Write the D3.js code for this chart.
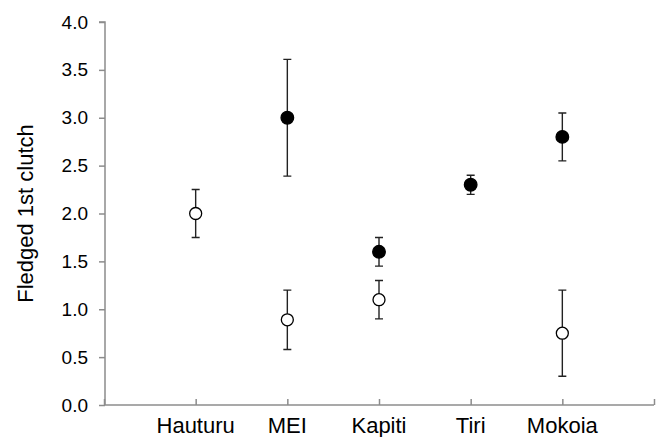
<!DOCTYPE html>
<html>
<head>
<meta charset="utf-8">
<script src="https://cdn.jsdelivr.net/npm/d3@7"></script>
<style>
  body { margin: 0; background: #fff; }
  svg { display: block; font-family: "Liberation Sans", Arial, sans-serif; }
</style>
</head>
<body>
<div id="chartDiv"></div>
<script>
const sites = ["Hauturu", "MEI", "Kapiti", "Tiri", "Mokoia"];
// filled circles
const filledMean = [null, 3.0, 1.6, 2.3, 2.8];
const filledErr  = [null, 0.61, 0.15, 0.1, 0.25];
// open circles
const openMean = [2.0, 0.89, 1.1, null, 0.75];
const openErr  = [0.25, 0.31, 0.2, null, 0.45];
const yTicks = [0, 0.5, 1, 1.5, 2, 2.5, 3, 3.5, 4];

const width = 664, height = 437;
const margin = {left: 105, right: 10, top: 22, bottom: 32};

const svg = d3.select("#chartDiv").append("svg")
    .attr("width", width)
    .attr("height", height);

const x = d3.scaleLinear().domain([0, sites.length + 1]).range([104, 654]);
const y = d3.scaleLinear().domain([0, 4]).range([405, 22]);

const axisColor = "#8c8c8c";

// y axis
const yAxis = svg.append("g")
    .attr("transform", `translate(${margin.left},0)`)
    .call(d3.axisLeft(y).tickValues(yTicks).tickSize(6).tickPadding(11).tickFormat(d3.format(".1f")));
yAxis.select(".domain").attr("stroke", axisColor).attr("stroke-width", 1.5).attr("d", `M-6,${y(4)}H0V${y(0)}`);
yAxis.selectAll(".tick line").attr("stroke", axisColor).attr("stroke-width", 1.5);
yAxis.selectAll(".tick text").attr("fill", "#000").style("font-size", "19px");

// x axis (ticks inside, no numbers)
const xAxis = svg.append("g")
    .attr("transform", `translate(0,${y(0)})`)
    .call(d3.axisBottom(x).ticks(sites.length + 1).tickSize(-6).tickFormat(""));
xAxis.select(".domain").attr("stroke", axisColor).attr("stroke-width", 1.5).attr("d", `M${x(0)},0H${x(sites.length + 1)}`);
xAxis.selectAll(".tick line").attr("stroke", axisColor).attr("stroke-width", 1.5);

// category labels
svg.append("g").selectAll("text")
  .data(sites)
  .join("text")
    .attr("x", (d, i) => x(i + 1))
    .attr("y", 433)
    .attr("text-anchor", "middle")
    .style("font-size", "22px")
    .text(d => d);

// y title
svg.append("text")
    .attr("transform", `translate(33,${(y(0) + y(4)) / 2}) rotate(-90)`)
    .attr("text-anchor", "middle")
    .style("font-size", "22px")
    .text("Fledged 1st clutch");

function drawSeries(means, errs, fill) {
  const pts = means.map((m, i) => ({i, m, e: errs[i]})).filter(d => d.m != null);
  const g = svg.append("g");
  const cap = 4;
  pts.forEach(d => {
    const cx = x(d.i + 1);
    g.append("path")
      .attr("d", `M${cx},${y(d.m + d.e)}V${y(d.m - d.e)}M${cx - cap},${y(d.m + d.e)}H${cx + cap}M${cx - cap},${y(d.m - d.e)}H${cx + cap}`)
      .attr("stroke", "#222")
      .attr("stroke-width", 1.4)
      .attr("fill", "none");
  });
  g.selectAll("circle")
    .data(pts)
    .join("circle")
      .attr("cx", d => x(d.i + 1))
      .attr("cy", d => y(d.m))
      .attr("r", fill === "#000" ? 6.3 : 6)
      .attr("fill", fill)
      .attr("stroke", "#000")
      .attr("stroke-width", 1.3);
}

drawSeries(openMean, openErr, "#fff");
drawSeries(filledMean, filledErr, "#000");
</script>
</body>
</html>
